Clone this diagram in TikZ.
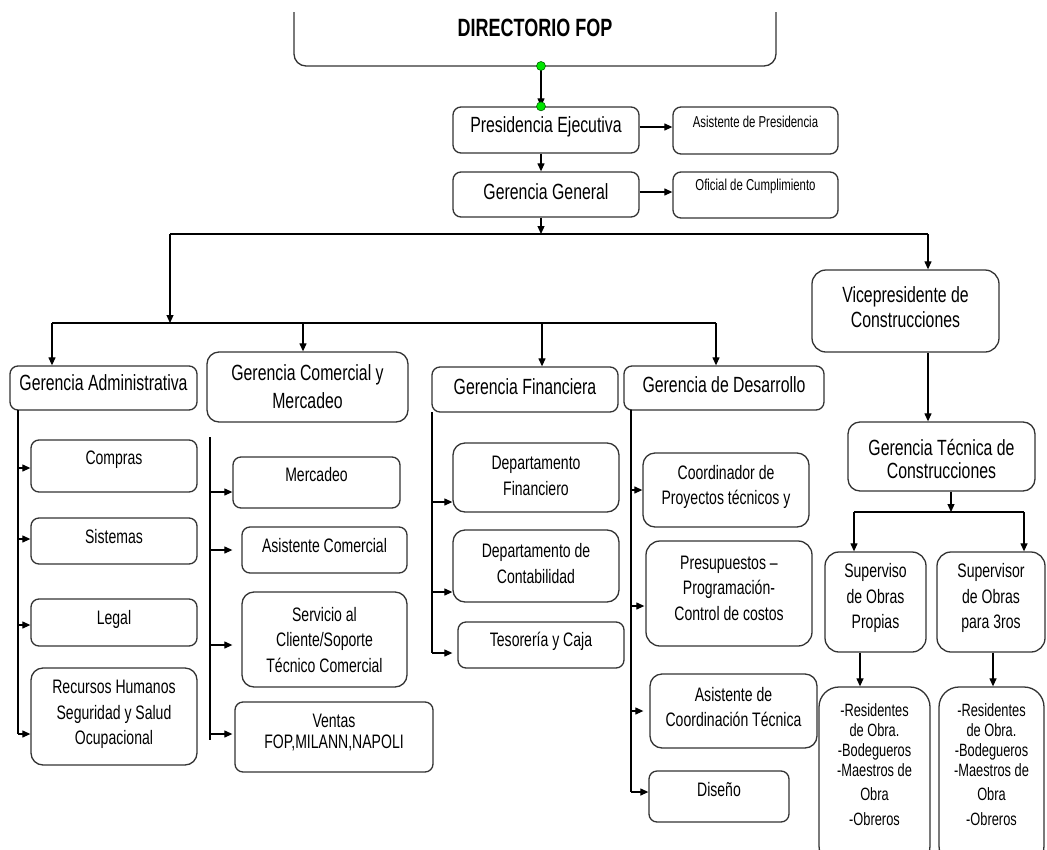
\documentclass[tikz,border=0pt]{standalone}
\usepackage{fontspec}
\setmainfont{Liberation Sans}
\newfontfamily\nar[FakeStretch=0.72]{Liberation Sans}
\usetikzlibrary{arrows.meta}
\newcommand{\fdir}{\nar\fontsize{25}{28}\selectfont\bfseries}
\newcommand{\fmain}{\nar\fontsize{22}{25}\selectfont}
\newcommand{\fsub}{\nar\fontsize{19.5}{25.5}\selectfont}
\newcommand{\fsmall}{\nar\fontsize{15.8}{18}\selectfont}
\newcommand{\fres}{\nar\fontsize{17.8}{20}\selectfont}
\tikzset{
  box/.style={draw=black!80, line width=1.3pt, rounded corners=8pt, inner sep=0pt, fill=white},
  lbl/.style={align=center, inner sep=0pt, font=\fsub, text=black},
  con/.style={line width=1.2pt, draw=black},
  arr/.style={con, -{Triangle[length=8pt,width=7pt]}},
  gdot/.style={fill=green!90!black, draw=black!60!green, line width=0.6pt},
}
% opt, name, x1, y1, x2, y2, text-y, text
\newcommand{\obox}[8][]{%
  \node[box,#1,minimum width={(#5-#3)*1pt},minimum height={(#6-#4)*1pt},
    label={[lbl,#1,yshift={((#4+#6)/2-#7)*1pt}]center:{#8}}]
    (#2) at ({(#3+#5)/2},{(#4+#6)/2}) {};}
\begin{document}
\begin{tikzpicture}[x=1pt,y=-1pt]
\useasboundingbox[fill=white] (0,0) rectangle (1047,849);
\clip (0,12) rectangle (1047,849);
% top
\obox[font=\fdir, rounded corners=12pt]{dir}{294}{-24}{776}{66}{28}{DIRECTORIO FOP}
\obox[font=\fmain]{pres}{453}{107}{639}{153}{127}{Presidencia Ejecutiva}
\obox[font=\fsmall]{asisP}{673}{107}{838}{154}{122}{Asistente de Presidencia}
\obox[font=\fmain]{gg}{453}{172}{639}{217}{192}{Gerencia General}
\obox[font=\fsmall]{ofi}{673}{172}{838}{218}{186}{Oficial de Cumplimiento}
\obox[font=\fmain, rounded corners=14pt]{vice}{812}{270}{999}{352}{307.5}{Vicepresidente de\\Construcciones}
% gerencias
\obox[font=\fmain]{adm}{10}{366}{197}{410}{383}{Gerencia Administrativa}
\obox[font=\fmain, rounded corners=12pt]{com}{207}{352}{408}{422}{387}{Gerencia Comercial y\\[3pt]Mercadeo}
\obox[font=\fmain]{fin}{432}{367}{618}{412}{387}{Gerencia Financiera}
\obox[font=\fmain]{des}{624}{366}{824}{410}{385}{Gerencia de Desarrollo}
% admin
\obox{compras}{31}{440}{197}{492}{460}{Compras}
\obox{sist}{31}{518}{197}{564}{537}{Sistemas}
\obox{legal}{31}{599}{197}{646}{619}{Legal}
\obox[rounded corners=12pt]{rrhh}{31}{668}{197}{765}{714.5}{Recursos Humanos\\Seguridad y Salud\\Ocupacional}
% comercial
\obox{merc}{233}{457}{400}{508}{475}{Mercadeo}
\obox{asisC}{242}{527}{407}{573}{546}{Asistente Comercial}
\obox[rounded corners=12pt]{serv}{242}{592}{407}{687}{640}{Servicio al\\Cliente/Soporte\\Técnico Comercial}
\obox{ventas}{235}{702}{433}{772}{732.5}{Ventas\\[-4pt]FOP,MILANN,NAPOLI}
% financiera
\obox[rounded corners=12pt]{dfin}{453}{443}{619}{512}{476}{Departamento\\Financiero}
\obox[rounded corners=12pt]{dcon}{453}{530}{619}{602}{563.5}{Departamento de\\Contabilidad}
\obox{teso}{458}{622}{624}{668}{641}{Tesorería y Caja}
% desarrollo
\obox[rounded corners=12pt]{coord}{643}{453}{809}{527}{487}{Coordinador de\\Proyectos técnicos y}
\obox[rounded corners=14pt]{presu}{646}{541}{812}{646}{588}{Presupuestos –\\Programación-\\Control de costos}
\obox[rounded corners=12pt]{asisT}{650}{674}{817}{748}{707}{Asistente de\\Coordinación Técnica}
\obox{dis}{649}{771}{789}{822}{790}{Diseño}
% construcciones
\obox[font=\fmain, rounded corners=12pt]{gt}{848}{422}{1035}{491}{458.5}{Gerencia Técnica de\\[-2pt]Construcciones}
\obox[rounded corners=14pt]{supA}{825}{552}{926}{652}{598}{Superviso\\de Obras\\Propias}
\obox[rounded corners=14pt]{supB}{937}{552}{1045}{652}{598}{Supervisor\\de Obras\\para 3ros}
\obox[font=\fres, rounded corners=20pt]{resA}{819}{687}{930}{866}{765}{-Residentes\\de Obra.\\-Bodegueros\\-Maestros de\\[4pt]Obra\\[5pt]-Obreros}
\obox[font=\fres, rounded corners=20pt]{resB}{939}{687}{1044}{866}{765}{-Residentes\\de Obra.\\-Bodegueros\\-Maestros de\\[4pt]Obra\\[5pt]-Obreros}
% coordinates
\coordinate (dirb) at (541,66);
\coordinate (b1) at (541,234);
\coordinate (bL) at (170,234);
\coordinate (bR) at (928,234);
\coordinate (c2) at (170,323);
\coordinate (l1) at (52,323);
\coordinate (l2) at (303,323);
\coordinate (l3) at (542,323);
\coordinate (l4) at (716,323);
\coordinate (a0) at (18,410);
\coordinate (a1) at (18,734);
\coordinate (k0) at (210,437);
\coordinate (k1) at (210,740);
\coordinate (f0) at (432,412);
\coordinate (f1) at (432,653);
\coordinate (d0) at (631,410);
\coordinate (d1) at (631,792);
\coordinate (g) at (951,512);
\coordinate (gL) at (854,512);
\coordinate (gR) at (1024,512);
\coordinate (sa) at (860,652);
\coordinate (sb) at (993,652);
% top connectors
\draw[arr] (dirb) -- (dirb |- pres.north);
\draw[arr] (pres.east |- 0,127) -- (asisP.west |- 0,127);
\draw[arr] (dirb |- pres.south) -- (dirb |- gg.north);
\draw[arr] (gg.east |- 0,192) -- (ofi.west |- 0,192);
\draw[arr] (dirb |- gg.south) -- (b1);
\draw[con] (bL) -- (bR);
\draw[arr] (bL) -- (c2);
\draw[arr] (bR) -- (bR |- vice.north);
\draw[con] (l1) -- (l4);
\draw[arr] (l1) -- (l1 |- adm.north);
\draw[arr] (l2) -- (l2 |- com.north);
\draw[arr] (l3) -- (l3 |- fin.north);
\draw[arr] (l4) -- (l4 |- des.north);
% admin column
\draw[con] (a0) -- (a1);
\draw[arr] ([yshift=-2pt]a0 |- compras.west) -- ([yshift=-2pt]compras.west);
\draw[arr] ([yshift=2pt]a0 |- sist.west) -- ([yshift=2pt]sist.west);
\draw[arr] ([yshift=-2.5pt]a0 |- legal.west) -- ([yshift=-2.5pt]legal.west);
\draw[arr] (a1) -- (a1 -| rrhh.west);
% comercial column
\draw[con] (k0) -- (k1);
\draw[arr] ([yshift=-9.5pt]k0 |- merc.west) -- ([yshift=-9.5pt]merc.west);
\draw[arr] (k0 |- asisC.west) -- ([xshift=-9pt]asisC.west);
\draw[arr] ([yshift=-5.5pt]k0 |- serv.west) -- ([yshift=-5.5pt,xshift=-9pt]serv.west);
\draw[arr] ([yshift=3pt]k0 |- ventas.west) -- ([yshift=3pt,xshift=-2pt]ventas.west);
% financiera column
\draw[con] (f0) -- (f1);
\draw[arr] ([yshift=-24.5pt]f0 |- dfin.west) -- ([yshift=-24.5pt]dfin.west);
\draw[arr] ([yshift=-26pt]f0 |- dcon.west) -- ([yshift=-26pt]dcon.west);
\draw[arr] (f1) -- ([xshift=-5pt]f1 -| teso.west);
% desarrollo column
\draw[con] (d0) -- (d1);
\draw[arr] (d0 |- coord.west) -- (coord.west);
\draw[arr] ([yshift=-12.5pt]d0 |- presu.west) -- ([yshift=-12.5pt,xshift=-1pt]presu.west);
\draw[arr] (d0 |- asisT.west) -- ([xshift=-6pt]asisT.west);
\draw[arr] (d1) -- (d1 -| dis.west);
% construcciones
\draw[arr] (bR |- vice.south) -- (bR |- gt.north);
\draw[arr] (g |- gt.south) -- (g);
\draw[con] (gL) -- (gR);
\draw[arr] (gL) -- (gL |- supA.north);
\draw[arr] (gR) -- (gR |- supB.north);
\draw[arr] (sa |- supA.south) -- (sa |- resA.north);
\draw[arr] (sb |- supB.south) -- (sb |- resB.north);
% green dots
\filldraw[gdot] (dirb) circle (4.5pt);
\filldraw[gdot] (dirb |- pres.north) circle (4.5pt);
\end{tikzpicture}
\end{document}
